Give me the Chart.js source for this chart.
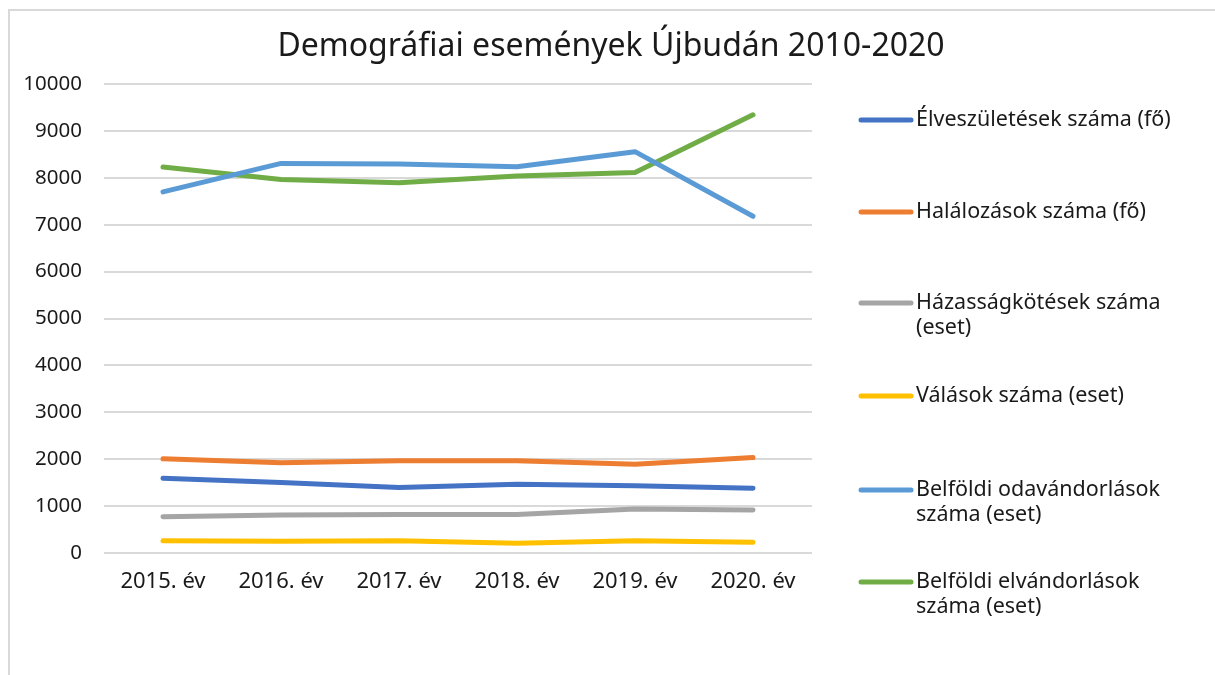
<!DOCTYPE html>
<html>
<head>
<meta charset="utf-8">
<script src="https://cdn.jsdelivr.net/npm/chart.js@4.4.1/dist/chart.umd.min.js"></script>
<style>
  html, body { margin: 0; padding: 0; background: #fff; }
  #wrap { position: relative; width: 1215px; height: 675px; }
</style>
</head>
<body>
<div id="wrap"><canvas id="chart" width="1215" height="675"></canvas></div>
<script>
// --- adatok ---
const EVEK = ['2015. év', '2016. év', '2017. év', '2018. év', '2019. év', '2020. év'];
const ELVESZULETES = [1596, 1504, 1397, 1468, 1433, 1383];
const HALALOZAS = [2007, 1922, 1965, 1965, 1894, 2035];
const HAZASSAG = [773, 809, 823, 823, 936, 915];
const VALAS = [262, 248, 262, 206, 262, 227];
const ODAVANDORLAS = [7700, 8307, 8293, 8236, 8557, 7179];
const ELVANDORLAS = [8229, 7964, 7893, 8036, 8114, 9343];

const CIM = 'Demográfiai események Újbudán 2010-2020';

const SOROZATOK = [
  { label: ['Élveszületések száma (fő)'], data: ELVESZULETES, color: '#4472C4' },
  { label: ['Halálozások száma (fő)'], data: HALALOZAS, color: '#ED7D31' },
  { label: ['Házasságkötések száma', '(eset)'], data: HAZASSAG, color: '#A5A5A5' },
  { label: ['Válások száma (eset)'], data: VALAS, color: '#FFC000' },
  { label: ['Belföldi odavándorlások', 'száma (eset)'], data: ODAVANDORLAS, color: '#5B9BD5' },
  { label: ['Belföldi elvándorlások', 'száma (eset)'], data: ELVANDORLAS, color: '#70AD47' },
];

const FONT = "'Noto Sans', Lato, sans-serif";

// keret, cím és jelmagyarázat rajzolása
const decorPlugin = {
  id: 'decor',
  beforeDraw(chart) {
    const ctx = chart.ctx;
    ctx.save();
    ctx.strokeStyle = '#D9D9D9';
    ctx.lineWidth = 2;
    ctx.beginPath();
    ctx.moveTo(9, 675);
    ctx.lineTo(9, 10);
    ctx.lineTo(1215, 10);
    ctx.stroke();
    ctx.restore();
  },
  afterDraw(chart) {
    const ctx = chart.ctx;
    ctx.save();
    ctx.fillStyle = '#1a1a1a';
    ctx.font = '32px ' + FONT;
    ctx.textAlign = 'center';
    ctx.textBaseline = 'middle';
    ctx.fillText(CIM, 611, 47);

    // jelmagyarázat
    const ys = [120, 212, 303, 396, 490, 582];
    ctx.font = '21.5px ' + FONT;
    ctx.textAlign = 'left';
    chart.data.datasets.forEach((ds, i) => {
      const y = ys[i];
      ctx.strokeStyle = ds.borderColor;
      ctx.lineWidth = 5;
      ctx.lineCap = 'round';
      ctx.beginPath();
      ctx.moveTo(861, y);
      ctx.lineTo(911, y);
      ctx.stroke();
      ds.labelLines.forEach((line, j) => {
        ctx.fillStyle = '#1a1a1a';
        ctx.fillText(line, 916, y + j * 25);
      });
    });
    ctx.restore();
  }
};

new Chart(document.getElementById('chart'), {
  type: 'line',
  data: {
    labels: EVEK,
    datasets: SOROZATOK.map(s => ({
      label: s.label.join(' '),
      labelLines: s.label,
      data: s.data,
      borderColor: s.color,
      backgroundColor: s.color,
      borderWidth: 5,
      borderCapStyle: 'round',
      borderJoinStyle: 'round',
      pointRadius: 0,
      tension: 0,
    }))
  },
  options: {
    responsive: false,
    animation: false,
    layout: { padding: { left: 0, right: 403, top: 84, bottom: 0 } },
    plugins: {
      legend: { display: false },
      title: { display: false },
      tooltip: { enabled: false }
    },
    scales: {
      x: {
        offset: true,
        grid: { display: false, drawTicks: false },
        border: { display: false },
        ticks: { color: '#1a1a1a', font: { family: FONT, size: 22 }, padding: 16, maxRotation: 0 },
        afterFit(scale) { scale.height = 122; }
      },
      y: {
        min: 0,
        max: 10000,
        ticks: {
          stepSize: 1000, color: '#1a1a1a', font: { family: FONT, size: 20.5 }, padding: 22,
          callback: v => String(v)
        },
        grid: { color: '#D9D9D9', lineWidth: 2, drawTicks: false },
        border: { display: false },
        afterFit(scale) { scale.width = 104; }
      }
    }
  },
  plugins: [decorPlugin]
});
</script>
</body>
</html>
